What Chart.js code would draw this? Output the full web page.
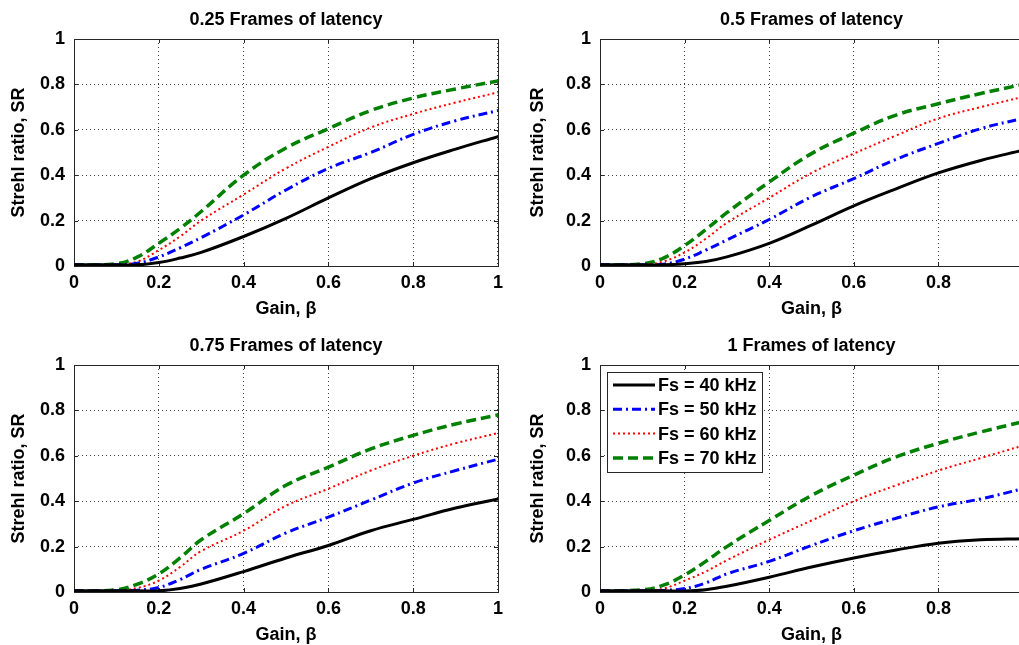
<!DOCTYPE html>
<html>
<head>
<meta charset="utf-8">
<script src="https://cdn.jsdelivr.net/npm/chart.js@4.4.1/dist/chart.umd.min.js"></script>
<style>
html, body { margin: 0; padding: 0; background: #fff; overflow: hidden; width: 1019px; height: 645px; }
canvas { position: absolute; }
</style>
</head>
<body>
<canvas id="c1" width="509" height="322" style="left:0;top:0"></canvas>
<canvas id="c2" width="514" height="322" style="left:519px;top:0"></canvas>
<canvas id="c3" width="509" height="322" style="left:0;top:326px"></canvas>
<canvas id="c4" width="514" height="322" style="left:519px;top:326px"></canvas>
<script>
var gains = [0, 0.1, 0.15, 0.2, 0.25, 0.3, 0.4, 0.5, 0.6, 0.7, 0.8, 0.9, 1.0];
var xTicks = [0, 0.2, 0.4, 0.6, 0.8, 1];
var xTickLabels = ['0', '0.2', '0.4', '0.6', '0.8', '1'];
// right-hand panels are cut off at the page edge, so their "1" is not seen
var xTickLabelsCut = ['0', '0.2', '0.4', '0.6', '0.8', ''];
var yTicks = [0, 0.2, 0.4, 0.6, 0.8, 1];
var yTickLabels = ['0', '0.2', '0.4', '0.6', '0.8', '1'];
var seriesLabels = ['Fs = 40 kHz', 'Fs = 50 kHz', 'Fs = 60 kHz', 'Fs = 70 kHz'];
var panelTitles = ['0.25 Frames of latency', '0.5 Frames of latency', '0.75 Frames of latency', '1 Frames of latency'];

// Strehl ratio, 0.25 frames of latency
var sr025_40 = [0.005, 0.005, 0.005, 0.015, 0.035, 0.06, 0.13, 0.21, 0.30, 0.385, 0.455, 0.515, 0.57];
var sr025_50 = [0.005, 0.005, 0.012, 0.04, 0.08, 0.125, 0.225, 0.335, 0.43, 0.50, 0.58, 0.64, 0.685];
var sr025_60 = [0.005, 0.006, 0.02, 0.07, 0.13, 0.20, 0.315, 0.43, 0.525, 0.61, 0.67, 0.72, 0.765];
var sr025_70 = [0.005, 0.01, 0.04, 0.10, 0.165, 0.24, 0.40, 0.52, 0.605, 0.685, 0.74, 0.78, 0.815];

// 0.5 frames
var sr05_40 = [0.005, 0.005, 0.005, 0.01, 0.02, 0.04, 0.10, 0.18, 0.265, 0.34, 0.41, 0.465, 0.51];
var sr05_50 = [0.005, 0.005, 0.008, 0.03, 0.07, 0.115, 0.205, 0.305, 0.385, 0.47, 0.54, 0.605, 0.65];
var sr05_60 = [0.005, 0.006, 0.02, 0.06, 0.12, 0.19, 0.30, 0.41, 0.495, 0.575, 0.65, 0.70, 0.745];
var sr05_70 = [0.005, 0.01, 0.035, 0.09, 0.16, 0.235, 0.37, 0.495, 0.585, 0.665, 0.715, 0.76, 0.80];

// 0.75 frames
var sr075_40 = [0.005, 0.005, 0.005, 0.005, 0.015, 0.035, 0.09, 0.15, 0.205, 0.27, 0.32, 0.37, 0.41];
var sr075_50 = [0.005, 0.005, 0.008, 0.02, 0.055, 0.10, 0.17, 0.26, 0.33, 0.405, 0.48, 0.535, 0.585];
var sr075_60 = [0.005, 0.006, 0.018, 0.05, 0.11, 0.18, 0.27, 0.38, 0.455, 0.535, 0.60, 0.655, 0.70];
var sr075_70 = [0.005, 0.01, 0.035, 0.08, 0.15, 0.23, 0.345, 0.47, 0.55, 0.63, 0.69, 0.74, 0.78];

// 1 frame
var sr1_40 = [0.005, 0.005, 0.005, 0.004, 0.01, 0.025, 0.065, 0.11, 0.15, 0.185, 0.215, 0.23, 0.235];
var sr1_50 = [0.005, 0.005, 0.007, 0.015, 0.04, 0.08, 0.135, 0.205, 0.27, 0.325, 0.375, 0.41, 0.455];
var sr1_60 = [0.005, 0.006, 0.015, 0.05, 0.09, 0.14, 0.23, 0.315, 0.40, 0.47, 0.535, 0.59, 0.645];
var sr1_70 = [0.005, 0.01, 0.03, 0.075, 0.135, 0.2, 0.315, 0.425, 0.515, 0.595, 0.655, 0.705, 0.75];

var lineStyles = [
    { color: '#000000', dash: [], width: 3 },
    { color: '#0000ff', dash: [9, 4, 2, 4], width: 3 },
    { color: '#ff0000', dash: [2, 3], width: 2 },
    { color: '#008000', dash: [10, 5], width: 3.5 }
];

var FONT = '"Liberation Sans", Arial, sans-serif';
var FONT_SIZE = 18;

// box round the plot area plus small inward ticks, MATLAB style
var framePlugin = {
    id: 'frame',
    beforeDatasetsDraw: function(chart) {
        var ctx = chart.ctx, a = chart.chartArea;
        var sx = chart.scales.x, sy = chart.scales.y;
        ctx.save();
        ctx.strokeStyle = '#262626';
        ctx.lineWidth = 1;
        ctx.setLineDash([]);
        ctx.beginPath();
        xTicks.forEach(function(v) {
            var px = Math.round(sx.getPixelForValue(v)) + 0.5;
            ctx.moveTo(px, a.bottom); ctx.lineTo(px, a.bottom - 4);
            ctx.moveTo(px, a.top); ctx.lineTo(px, a.top + 4);
        });
        yTicks.forEach(function(v) {
            var py = Math.round(sy.getPixelForValue(v)) + 0.5;
            ctx.moveTo(a.left, py); ctx.lineTo(a.left + 4, py);
            ctx.moveTo(a.right, py); ctx.lineTo(a.right - 4, py);
        });
        ctx.stroke();
        ctx.strokeRect(Math.round(a.left) + 0.5, Math.round(a.top) + 0.5,
            Math.round(a.right - a.left), Math.round(a.bottom - a.top));
        ctx.restore();
    }
};

// boxed legend in the top-left corner of the plot area
var boxLegend = {
    id: 'boxLegend',
    afterDatasetsDraw: function(chart) {
        var ctx = chart.ctx, a = chart.chartArea;
        var x0 = Math.round(a.left) + 7, y0 = Math.round(a.top) + 7, w = 155, h = 100;
        ctx.save();
        ctx.fillStyle = '#fff';
        ctx.fillRect(x0, y0, w, h);
        ctx.strokeStyle = '#262626';
        ctx.lineWidth = 1;
        ctx.strokeRect(x0 + 0.5, y0 + 0.5, w, h);
        chart.data.datasets.forEach(function(ds, i) {
            var y = y0 + 13 + i * 24.3;
            ctx.beginPath();
            ctx.setLineDash(ds.borderDash || []);
            ctx.lineWidth = ds.borderWidth;
            ctx.strokeStyle = ds.borderColor;
            ctx.moveTo(x0 + 6, y);
            ctx.lineTo(x0 + 48, y);
            ctx.stroke();
            ctx.setLineDash([]);
            ctx.fillStyle = '#000';
            ctx.font = 'bold ' + FONT_SIZE + 'px ' + FONT;
            ctx.textBaseline = 'middle';
            ctx.fillText(ds.label, x0 + 51, y + 1);
        });
        ctx.restore();
    }
};

function textFont() {
    return { family: FONT, size: FONT_SIZE, weight: 'bold', lineHeight: 1.25 };
}

function makePanel(canvasId, title, series, yWidth, xLabels, withLegend) {
    var datasets = series.map(function(vals, i) {
        return {
            label: seriesLabels[i],
            data: gains.map(function(g, j) { return { x: g, y: vals[j] }; }),
            borderColor: lineStyles[i].color,
            borderDash: lineStyles[i].dash,
            borderWidth: lineStyles[i].width,
            borderCapStyle: 'butt',
            pointRadius: 0,
            fill: false,
            tension: 0.4
        };
    });
    var plugins = [framePlugin];
    if (withLegend) plugins.push(boxLegend);

    return new Chart(document.getElementById(canvasId), {
        type: 'line',
        data: { datasets: datasets },
        plugins: plugins,
        options: {
            responsive: false,
            devicePixelRatio: 1,
            animation: false,
            layout: { padding: { left: 0, right: 10, top: 0, bottom: 0 } },
            plugins: {
                legend: { display: false },
                tooltip: { enabled: false }
            },
            scales: {
                x: {
                    type: 'linear',
                    min: 0,
                    max: 1,
                    afterBuildTicks: function(s) { s.ticks = xTicks.map(function(v) { return { value: v }; }); },
                    afterFit: function(s) { s.height = 56; },
                    grid: { color: '#444', lineWidth: 1, drawTicks: false },
                    border: { display: false, dash: [1, 3] },
                    ticks: {
                        color: '#000', padding: 6, maxRotation: 0, font: textFont(),
                        callback: function(v, i) { return xLabels[i]; }
                    },
                    title: { display: true, text: 'Gain, β', color: '#000', padding: { top: 0, bottom: 2 }, font: textFont() }
                },
                xTop: {
                    type: 'linear',
                    position: 'top',
                    min: 0,
                    max: 1,
                    afterFit: function(s) { s.height = 39; },
                    grid: { display: false },
                    border: { display: false },
                    ticks: { display: false },
                    title: { display: true, text: title, color: '#000', padding: { top: 9, bottom: 0 }, font: textFont() }
                },
                y: {
                    type: 'linear',
                    min: 0,
                    max: 1,
                    afterBuildTicks: function(s) { s.ticks = yTicks.map(function(v) { return { value: v }; }); },
                    afterFit: function(s) { s.width = yWidth; },
                    grid: { color: '#444', lineWidth: 1, drawTicks: false },
                    border: { display: false, dash: [1, 3] },
                    ticks: {
                        color: '#000', padding: 9, font: textFont(),
                        callback: function(v, i) { return yTickLabels[i]; }
                    },
                    title: { display: true, text: 'Strehl ratio, SR', color: '#000', padding: { top: 8, bottom: 0 }, font: textFont() }
                }
            }
        }
    });
}

makePanel('c1', panelTitles[0], [sr025_40, sr025_50, sr025_60, sr025_70], 74, xTickLabels, false);
makePanel('c2', panelTitles[1], [sr05_40, sr05_50, sr05_60, sr05_70], 81, xTickLabelsCut, false);
makePanel('c3', panelTitles[2], [sr075_40, sr075_50, sr075_60, sr075_70], 74, xTickLabels, false);
makePanel('c4', panelTitles[3], [sr1_40, sr1_50, sr1_60, sr1_70], 81, xTickLabelsCut, true);
</script>
</body>
</html>
